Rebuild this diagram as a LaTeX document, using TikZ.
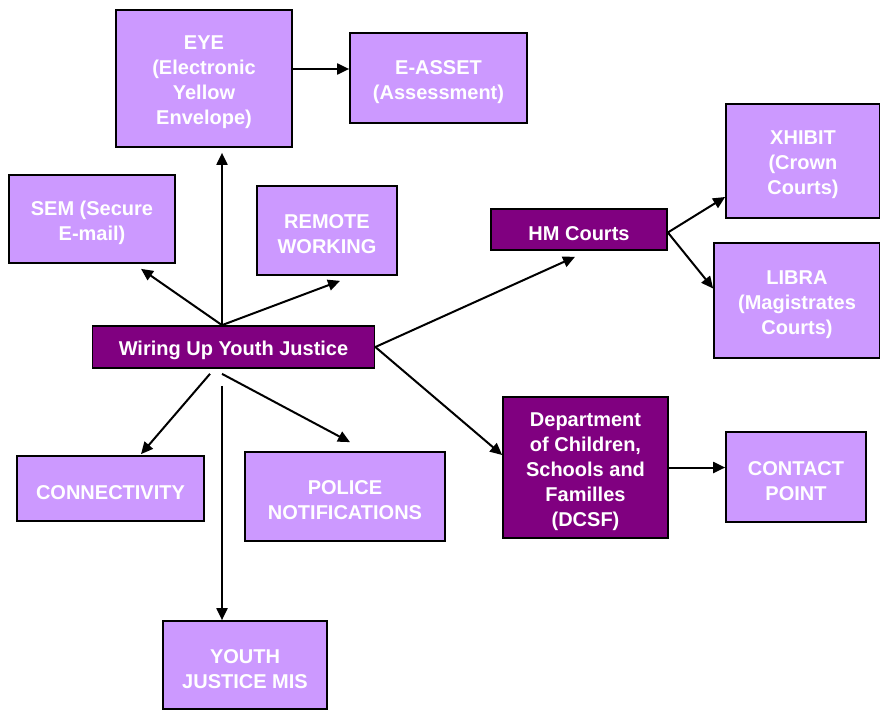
\documentclass[tikz,border=0pt]{standalone}
\usepackage{fontspec}
\setmainfont{Liberation Sans}
\usetikzlibrary{arrows.meta,calc}
\definecolor{LightPurple}{RGB}{204,153,255}
\definecolor{DarkPurple}{RGB}{128,0,128}
\newcommand{\tstrut}{\rule{0pt}{22pt}}
\tikzset{
  lbox/.style={draw=black,line width=1.7pt,fill=LightPurple,text=white,
               font=\fontsize{20}{25}\selectfont\bfseries,align=center,inner sep=0pt},
  dbox/.style={lbox,fill=DarkPurple},
  arr/.style={-{Triangle[length=12pt,width=11pt]},line width=2pt},
}

\begin{document}
\begin{tikzpicture}[x=1pt,y=-1pt]
  \useasboundingbox (0,0) rectangle (880,709);

  % centre
  \node[dbox,minimum width=282,minimum height=42] (wuyj) at (233.5,347) {\tstrut Wiring Up Youth Justice};

  % upper left
  \node[lbox,minimum width=176,minimum height=137] (eye) at (204,78.5)
    {\tstrut EYE\\(Electronic\\Yellow\\Envelope)};
  \node[lbox,minimum width=177,minimum height=90] (easset) at (438.5,78)
    {\tstrut E-ASSET\\(Assessment)};
  \node[lbox,minimum width=166,minimum height=88] (sem) at (92,219)
    {\tstrut SEM (Secure\\E-mail)};
  \node[lbox,minimum width=140,minimum height=89] (remote) at (327,230.5)
    {\tstrut REMOTE\\WORKING};

  % courts
  \node[dbox,minimum width=176,minimum height=41] (hm) at (579,229.5) {\tstrut HM Courts};
  \node[lbox,minimum width=154,minimum height=114] (xhibit) at (803,161)
    {\tstrut XHIBIT\\(Crown\\Courts)};
  \node[lbox,minimum width=166,minimum height=115] (libra) at (797,300.5)
    {\tstrut LIBRA\\(Magistrates\\Courts)};

  % DCSF
  \node[dbox,minimum width=165,minimum height=141] (dcsf) at (585.5,467.5)
    {\tstrut Department\\of Children,\\Schools and\\Familles\\(DCSF)};
  \node[lbox,minimum width=140,minimum height=90] (contact) at (796,477)
    {\tstrut CONTACT\\POINT};

  % lower
  \node[lbox,minimum width=187,minimum height=65] (conn) at (110.5,488.5) {\tstrut CONNECTIVITY};
  \node[lbox,minimum width=200,minimum height=89] (police) at (345,496.5)
    {\tstrut POLICE\\NOTIFICATIONS};
  \node[lbox,minimum width=164,minimum height=88] (mis) at (245,665)
    {\tstrut YOUTH\\JUSTICE MIS};

  % connectors
  \coordinate (hubN) at ($(wuyj.north)+(-11.5,0)$);
  \coordinate (hubSW) at ($(wuyj.south)+(-23.5,5)$);
  \coordinate (hubS) at ($(wuyj.south)+(-11.5,5)$);
  \coordinate (hubV) at ($(wuyj.south)+(-11.5,17)$);

  \draw[arr] (hubN) -- ($(eye.south)+(18,5)$);
  \draw[arr] (hubN) -- ($(sem.south)+(49,5)$);
  \draw[arr] (hubN) -- ($(remote.south)+(13,5)$);
  \draw[arr] (wuyj.east) -- ($(hm.south)+(-4,6)$);
  \draw[arr] (wuyj.east) -- ($(dcsf.west)+(0,-12.5)$);
  \draw[arr] (hubSW) -- ($(conn.north)+(30.5,-1)$);
  \draw[arr] (hubS) -- ($(police.north)+(5,-9)$);
  \draw[arr] (hubV) -- (mis.north -| hubV);

  \draw[arr] ($(hm.east)+(0,3)$) -- ($(xhibit.west)+(0,36)$);
  \draw[arr] ($(hm.east)+(0,3)$) -- ($(libra.west)+(0,-12)$);
  \draw[arr] ($(eye.east)+(0,-9.5)$) -- ($(easset.west)+(0,-9)$);
  \draw[arr] (dcsf.east) -- (dcsf.east -| contact.west);
\end{tikzpicture}
\end{document}
